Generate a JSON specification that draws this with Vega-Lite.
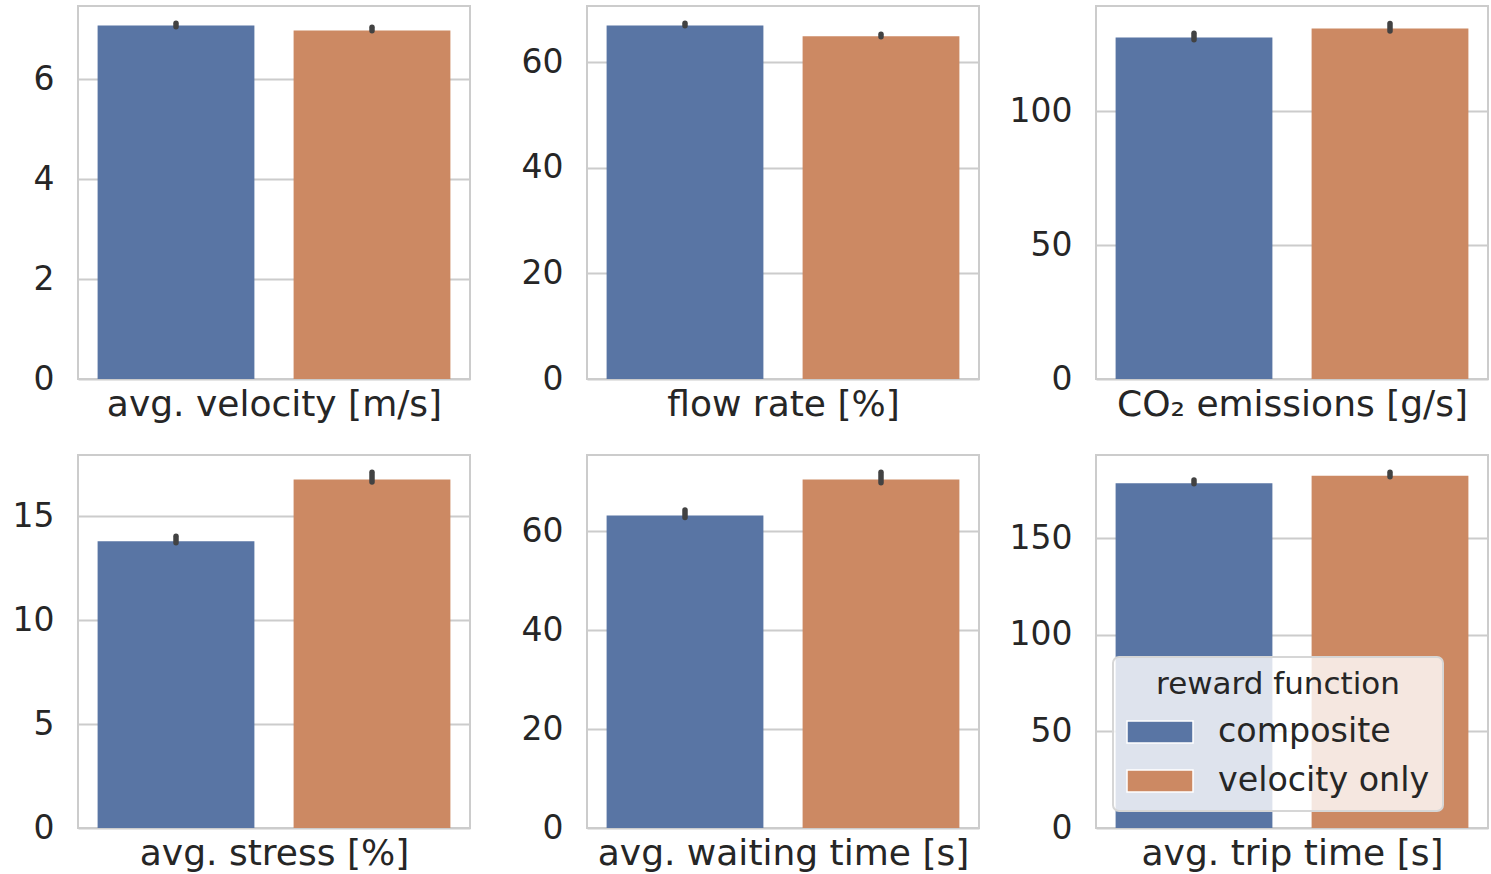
{
  "$schema": "https://vega.github.io/schema/vega-lite/v6.json",
  "padding": {"top": 5, "left": 0, "right": 2, "bottom": 0},
  "background": "white",
  "datasets": {
    "d": [
      {"metric": "velocity", "reward": "composite", "mean": 7.08, "lo": 7.055, "hi": 7.125},
      {"metric": "velocity", "reward": "velocity only", "mean": 6.98, "lo": 6.975, "hi": 7.045},
      {"metric": "flow", "reward": "composite", "mean": 67.0, "lo": 66.96, "hi": 67.43},
      {"metric": "flow", "reward": "velocity only", "mean": 64.95, "lo": 64.85, "hi": 65.35},
      {"metric": "co2", "reward": "composite", "mean": 127.6, "lo": 126.8, "hi": 129.2},
      {"metric": "co2", "reward": "velocity only", "mean": 131.0, "lo": 130.1, "hi": 132.9},
      {"metric": "stress", "reward": "composite", "mean": 13.81, "lo": 13.74, "hi": 14.05},
      {"metric": "stress", "reward": "velocity only", "mean": 16.78, "lo": 16.66, "hi": 17.13},
      {"metric": "waiting", "reward": "composite", "mean": 63.2, "lo": 62.8, "hi": 64.3},
      {"metric": "waiting", "reward": "velocity only", "mean": 70.5, "lo": 69.85, "hi": 71.97},
      {"metric": "trip", "reward": "composite", "mean": 178.6, "lo": 178.3, "hi": 180.2},
      {"metric": "trip", "reward": "velocity only", "mean": 182.4, "lo": 181.9, "hi": 184.3}
    ]
  },
  "columns": 3,
  "bounds": "flush",
  "spacing": {"row": 76, "column": 117},
  "resolve": {"legend": {"color": "independent"}},
  "concat": [
    {
      "width": 392, "height": 373,
      "data": {"name": "d"},
      "transform": [{"filter": "datum.metric === 'velocity'"}],
      "encoding": {"x": {"field": "reward", "type": "nominal", "sort": ["composite", "velocity only"], "scale": {"paddingInner": 0.2, "paddingOuter": 0.1}, "axis": {"title": "avg. velocity [m/s]"}}},
      "layer": [
        {"mark": {"type": "bar"}, "encoding": {
          "y": {"field": "mean", "type": "quantitative", "scale": {"domain": [0, 7.47], "nice": false}, "axis": {"title": null, "values": [0, 2, 4, 6]}},
          "color": {"field": "reward", "type": "nominal", "scale": {"domain": ["composite", "velocity only"], "range": ["#5975a4", "#cc8963"]}, "legend": null}}},
        {"mark": {"type": "rule", "color": "#424242", "strokeWidth": 5.5, "strokeCap": "round"}, "encoding": {
          "y": {"field": "lo", "type": "quantitative"}, "y2": {"field": "hi"}}}
      ]
    },
    {
      "width": 392, "height": 373,
      "data": {"name": "d"},
      "transform": [{"filter": "datum.metric === 'flow'"}],
      "encoding": {"x": {"field": "reward", "type": "nominal", "sort": ["composite", "velocity only"], "scale": {"paddingInner": 0.2, "paddingOuter": 0.1}, "axis": {"title": "flow rate [%]"}}},
      "layer": [
        {"mark": {"type": "bar"}, "encoding": {
          "y": {"field": "mean", "type": "quantitative", "scale": {"domain": [0, 70.7], "nice": false}, "axis": {"title": null, "values": [0, 20, 40, 60]}},
          "color": {"field": "reward", "type": "nominal", "scale": {"domain": ["composite", "velocity only"], "range": ["#5975a4", "#cc8963"]}, "legend": null}}},
        {"mark": {"type": "rule", "color": "#424242", "strokeWidth": 5.5, "strokeCap": "round"}, "encoding": {
          "y": {"field": "lo", "type": "quantitative"}, "y2": {"field": "hi"}}}
      ]
    },
    {
      "width": 392, "height": 373,
      "data": {"name": "d"},
      "transform": [{"filter": "datum.metric === 'co2'"}],
      "encoding": {"x": {"field": "reward", "type": "nominal", "sort": ["composite", "velocity only"], "scale": {"paddingInner": 0.2, "paddingOuter": 0.1}, "axis": {"title": "CO₂ emissions [g/s]"}}},
      "layer": [
        {"mark": {"type": "bar"}, "encoding": {
          "y": {"field": "mean", "type": "quantitative", "scale": {"domain": [0, 139.4], "nice": false}, "axis": {"title": null, "values": [0, 50, 100]}},
          "color": {"field": "reward", "type": "nominal", "scale": {"domain": ["composite", "velocity only"], "range": ["#5975a4", "#cc8963"]}, "legend": null}}},
        {"mark": {"type": "rule", "color": "#424242", "strokeWidth": 5.5, "strokeCap": "round"}, "encoding": {
          "y": {"field": "lo", "type": "quantitative"}, "y2": {"field": "hi"}}}
      ]
    },
    {
      "width": 392, "height": 373,
      "data": {"name": "d"},
      "transform": [{"filter": "datum.metric === 'stress'"}],
      "encoding": {"x": {"field": "reward", "type": "nominal", "sort": ["composite", "velocity only"], "scale": {"paddingInner": 0.2, "paddingOuter": 0.1}, "axis": {"title": "avg. stress [%]"}}},
      "layer": [
        {"mark": {"type": "bar"}, "encoding": {
          "y": {"field": "mean", "type": "quantitative", "scale": {"domain": [0, 17.96], "nice": false}, "axis": {"title": null, "values": [0, 5, 10, 15]}},
          "color": {"field": "reward", "type": "nominal", "scale": {"domain": ["composite", "velocity only"], "range": ["#5975a4", "#cc8963"]}, "legend": null}}},
        {"mark": {"type": "rule", "color": "#424242", "strokeWidth": 5.5, "strokeCap": "round"}, "encoding": {
          "y": {"field": "lo", "type": "quantitative"}, "y2": {"field": "hi"}}}
      ]
    },
    {
      "width": 392, "height": 373,
      "data": {"name": "d"},
      "transform": [{"filter": "datum.metric === 'waiting'"}],
      "encoding": {"x": {"field": "reward", "type": "nominal", "sort": ["composite", "velocity only"], "scale": {"paddingInner": 0.2, "paddingOuter": 0.1}, "axis": {"title": "avg. waiting time [s]"}}},
      "layer": [
        {"mark": {"type": "bar"}, "encoding": {
          "y": {"field": "mean", "type": "quantitative", "scale": {"domain": [0, 75.45], "nice": false}, "axis": {"title": null, "values": [0, 20, 40, 60]}},
          "color": {"field": "reward", "type": "nominal", "scale": {"domain": ["composite", "velocity only"], "range": ["#5975a4", "#cc8963"]}, "legend": null}}},
        {"mark": {"type": "rule", "color": "#424242", "strokeWidth": 5.5, "strokeCap": "round"}, "encoding": {
          "y": {"field": "lo", "type": "quantitative"}, "y2": {"field": "hi"}}}
      ]
    },
    {
      "width": 392, "height": 373,
      "data": {"name": "d"},
      "transform": [{"filter": "datum.metric === 'trip'"}],
      "encoding": {"x": {"field": "reward", "type": "nominal", "sort": ["composite", "velocity only"], "scale": {"paddingInner": 0.2, "paddingOuter": 0.1}, "axis": {"title": "avg. trip time [s]"}}},
      "layer": [
        {"mark": {"type": "bar"}, "encoding": {
          "y": {"field": "mean", "type": "quantitative", "scale": {"domain": [0, 193.2], "nice": false}, "axis": {"title": null, "values": [0, 50, 100, 150]}},
          "color": {"field": "reward", "type": "nominal", "scale": {"domain": ["composite", "velocity only"], "range": ["#5975a4", "#cc8963"]},
            "legend": {"title": "reward function", "orient": "none", "legendX": 17, "legendY": 202}}}},
        {"mark": {"type": "rule", "color": "#424242", "strokeWidth": 5.5, "strokeCap": "round"}, "encoding": {
          "y": {"field": "lo", "type": "quantitative"}, "y2": {"field": "hi"}}}
      ]
    }
  ],
  "config": {
    "font": "DejaVu Sans",
    "view": {"stroke": "#cccccc", "strokeWidth": 2},
    "axis": {
      "labelFont": "DejaVu Sans", "titleFont": "DejaVu Sans",
      "labelFontSize": 33, "titleFontSize": 36, "titleFontWeight": "normal",
      "labelColor": "#262626", "titleColor": "#262626",
      "ticks": false, "tickSize": 0, "domain": false,
      "gridColor": "#cccccc", "gridWidth": 2
    },
    "axisX": {"labels": false, "grid": false, "titlePadding": 8, "minExtent": 0, "maxExtent": 0},
    "axisY": {"labelPadding": 24, "minExtent": 77, "maxExtent": 77, "grid": true},
    "legend": {
      "titleFont": "DejaVu Sans", "labelFont": "DejaVu Sans",
      "titleFontSize": 31, "titleFontWeight": "normal", "titleColor": "#262626",
      "labelFontSize": 33.3, "labelColor": "#262626",
      "titleAnchor": "middle", "titlePadding": 14, "titleLimit": 1000, "labelLimit": 1000,
      "symbolType": "M-1,-0.33H1V0.33H-1Z", "symbolSize": 4356,
      "symbolStrokeColor": "white", "symbolStrokeWidth": 1.5, "symbolOpacity": 1,
      "clipHeight": 34, "rowPadding": 15, "labelOffset": 24,
      "padding": 13, "fillColor": "rgba(255,255,255,0.8)", "strokeColor": "#d6d6d6", "strokeWidth": 2, "cornerRadius": 6
    }
  }
}
